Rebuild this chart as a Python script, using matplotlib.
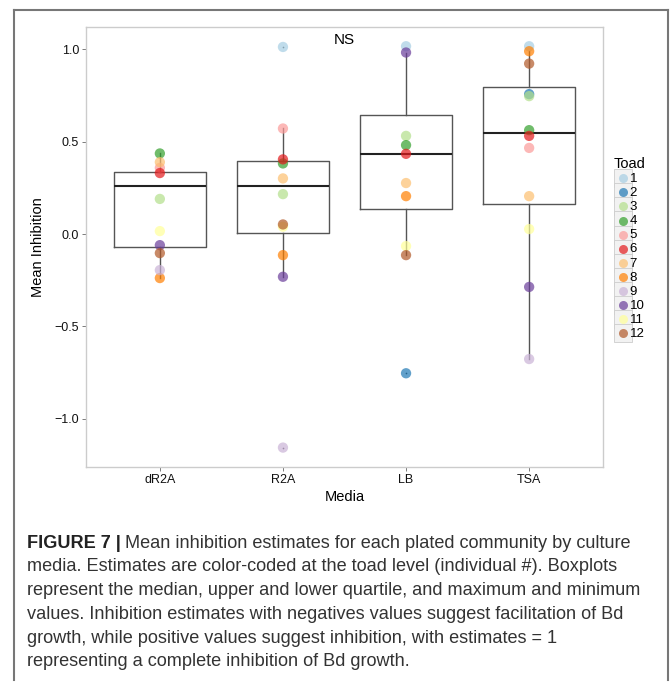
import numpy as np
import matplotlib
matplotlib.use('Agg')
import matplotlib.pyplot as plt
from matplotlib.lines import Line2D
from matplotlib.patches import Rectangle
from matplotlib.legend_handler import HandlerBase

plt.rcParams['font.family'] = ['Liberation Sans', 'DejaVu Sans']

media = ['dR2A', 'R2A', 'LB', 'TSA']
toads = ['1', '2', '3', '4', '5', '6', '7', '8', '9', '10', '11', '12']
toad_colors = ['#A6CEE3', '#1F78B4', '#B2DF8A', '#33A02C', '#FB9A99', '#E31A1C',
               '#FDBF6F', '#FF7F00', '#CAB2D6', '#6A3D9A', '#FFFF99', '#B15928']

# mean inhibition per toad (index = toad - 1), nan = not shown
inhib_dR2A = [np.nan, np.nan, 0.19, 0.436, 0.358, 0.33, 0.389, -0.238, -0.195, -0.06, 0.016, -0.103]
inhib_R2A = [1.012, np.nan, 0.216, 0.382, 0.571, 0.404, 0.301, -0.114, -1.155, -0.231, 0.04, 0.052]
inhib_LB = [1.016, -0.753, 0.531, 0.481, np.nan, 0.434, 0.276, 0.205, np.nan, 0.982, -0.065, -0.114]
inhib_TSA = [1.016, 0.757, 0.746, 0.562, 0.466, 0.531, 0.205, 0.989, -0.676, -0.286, 0.027, 0.922]

# boxplot summary per medium
box_low = [-0.238, -0.231, -0.114, -0.676]
box_q1 = [-0.070, 0.004, 0.137, 0.160]
box_med = [0.261, 0.259, 0.434, 0.544]
box_q3 = [0.337, 0.396, 0.643, 0.796]
box_high = [0.436, 0.571, 0.982, 0.989]
box_out = [[], [1.012, -1.155], [-0.753], []]

caption = [
    'media. Estimates are color-coded at the toad level (individual #). Boxplots',
    'represent the median, upper and lower quartile, and maximum and minimum',
    'values. Inhibition estimates with negatives values suggest facilitation of Bd',
    'growth, while positive values suggest inhibition, with estimates = 1',
    'representing a complete inhibition of Bd growth.',
]

W, H = 670, 690
fig = plt.figure(figsize=(W / 100, H / 100), dpi=100)
ax = fig.add_axes([86 / W, 1 - 467 / H, (603 - 86) / W, (467 - 27) / H])

stats = []
for i in range(len(media)):
    stats.append(dict(med=box_med[i], q1=box_q1[i], q3=box_q3[i],
                      whislo=box_low[i], whishi=box_high[i], fliers=box_out[i]))
ax.bxp(stats, positions=range(1, 5), widths=0.75, showcaps=False,
       boxprops=dict(color='#555555', lw=1),
       whiskerprops=dict(color='#555555', lw=1),
       medianprops=dict(color='#222222', lw=1.5),
       flierprops=dict(marker='o', markersize=1.2, markerfacecolor='#333333',
                       markeredgecolor='none'))

for i, vals in enumerate([inhib_dR2A, inhib_R2A, inhib_LB, inhib_TSA]):
    for t, v in enumerate(vals):
        if np.isnan(v):
            continue
        ax.scatter(i + 1, v, s=55, color=toad_colors[t], alpha=0.7,
                   edgecolors='none', zorder=3)

ax.text(2.5, 1.05, 'NS', ha='center', va='center', fontsize=11)

ax.set_xlim(0.4, 4.6)
ax.set_ylim(-1.26, 1.12)
ax.set_xticks(range(1, 5))
ax.set_xticklabels(media)
ax.set_yticks([-1.0, -0.5, 0.0, 0.5, 1.0])
ax.set_yticklabels(['\u22121.0', '\u22120.5', '0.0', '0.5', '1.0'])
ax.tick_params(length=3, width=0.6, color='#666666', labelsize=9,
               labelcolor='#111111', pad=2)
for s in ax.spines.values():
    s.set_color('#CCCCCC')
    s.set_linewidth(1)
ax.set_xlabel('Media', fontsize=10.5, labelpad=3)
ax.set_ylabel('Mean Inhibition', fontsize=10.5, labelpad=7)


class KeyHandler(HandlerBase):
    def create_artists(self, legend, orig, xd, yd, w, h, fontsize, trans):
        box = Rectangle((xd, yd + h / 2 - 6.5), 13, 13, facecolor='#F2F2F2',
                        edgecolor='#CCCCCC', lw=0.6, transform=trans)
        dot = Line2D([xd + 6.5], [yd + h / 2], marker='o', markersize=6.5,
                     color=orig.get_color(), alpha=0.7, markeredgecolor='none',
                     transform=trans)
        return [box, dot]


handles = [Line2D([], [], color=c) for c in toad_colors]
leg = ax.legend(handles, toads, title='Toad', loc='upper left',
                bbox_to_anchor=(1.008, 0.72), frameon=False, fontsize=9.5,
                title_fontsize=10.5, handlelength=1.0, handleheight=0.6,
                handletextpad=0.2, labelspacing=0.16, borderpad=0,
                handler_map={Line2D: KeyHandler()})
leg._legend_box.align = 'left'

# figure frame
for xs, ys in [([14, 668], [10, 10]), ([14, 14], [10, 680]), ([668, 668], [10, 680])]:
    fig.add_artist(Line2D([x / W for x in xs], [1 - y / H for y in ys],
                          color='#777777', lw=1.5))

# caption
y0 = 1 - 543 / H
step = 23.8 / H
t = fig.text(27 / W, y0, 'FIGURE 7 |', fontsize=13.1, fontweight='bold',
             color='#222222', va='center')
fig.canvas.draw()
bb = t.get_window_extent()
fig.text(bb.x1 / W + 4 / W, y0, 'Mean inhibition estimates for each plated community by culture',
         fontsize=13.1, color='#333333', va='center')
for k, line in enumerate(caption):
    fig.text(27 / W, y0 - (k + 1) * step, line, fontsize=13.1, color='#333333', va='center')

fig.savefig('out.png', dpi=100)
